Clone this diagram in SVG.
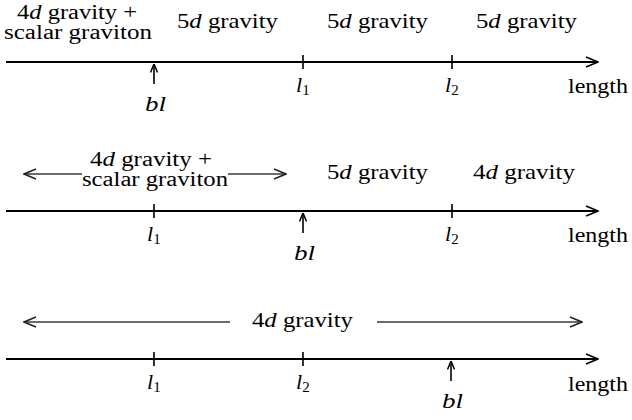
<svg xmlns="http://www.w3.org/2000/svg" width="632" height="420" viewBox="0 0 632 420">
<style>
text{font-family:"Liberation Serif","Times New Roman",Times,serif;font-size:22px;fill:#000}
.i{font-style:italic}
.st{font-size:20px}
.sub{font-size:15px;font-style:normal}
.axis{stroke:#000;stroke-width:2;fill:none}
.tick{stroke:#000;stroke-width:1.6}
.bl{stroke:#000;stroke-width:1.6;fill:none}
.rng{stroke:#3a3a3a;stroke-width:1.5;fill:none}
</style>
<defs>
<marker id="ah" viewBox="0 0 14 12" refX="13" refY="6" markerWidth="14" markerHeight="12" orient="auto" markerUnits="userSpaceOnUse">
<path d="M1,1 L13,6 L1,11" fill="none" stroke="#000" stroke-width="1.5"/>
</marker>
<marker id="ahs" viewBox="0 0 10 8" refX="9.5" refY="4" markerWidth="10" markerHeight="8" orient="auto" markerUnits="userSpaceOnUse">
<path d="M1,0.5 L9.5,4 L1,7.5" fill="none" stroke="#000" stroke-width="1.5"/>
</marker>
<marker id="ahg" viewBox="0 0 14 12" refX="13" refY="6" markerWidth="14" markerHeight="12" orient="auto" markerUnits="userSpaceOnUse">
<path d="M1,1 L13,6 L1,11" fill="none" stroke="#222" stroke-width="1.5"/>
</marker>
</defs>

<g id="connectors">
<line class="axis" x1="6" y1="62" x2="598" y2="62" marker-end="url(#ah)"/>
<line class="axis" x1="6" y1="211" x2="598" y2="211" marker-end="url(#ah)"/>
<line class="axis" x1="6" y1="359" x2="598" y2="359" marker-end="url(#ah)"/>
<line class="tick" x1="303" y1="55" x2="303" y2="69"/>
<line class="tick" x1="452" y1="55" x2="452" y2="69"/>
<line class="tick" x1="154" y1="204" x2="154" y2="218"/>
<line class="tick" x1="452" y1="204" x2="452" y2="218"/>
<line class="tick" x1="154" y1="352" x2="154" y2="366"/>
<line class="tick" x1="303" y1="352" x2="303" y2="366"/>
<line class="bl" x1="154" y1="84" x2="154" y2="64" marker-end="url(#ahs)"/>
<line class="bl" x1="303" y1="233" x2="303" y2="213" marker-end="url(#ahs)"/>
<line class="bl" x1="451" y1="381" x2="451" y2="361" marker-end="url(#ahs)"/>
<line class="rng" x1="82" y1="174" x2="24" y2="174" marker-end="url(#ahg)"/>
<line class="rng" x1="228" y1="174" x2="286" y2="174" marker-end="url(#ahg)"/>
<line class="rng" x1="230" y1="322" x2="24" y2="322" marker-end="url(#ahg)"/>
<line class="rng" x1="377" y1="322" x2="582" y2="322" marker-end="url(#ahg)"/>
</g>

<g id="row1">
<text class="st" x="17" y="19" textLength="120" lengthAdjust="spacingAndGlyphs">4<tspan class="i">d</tspan> gravity +</text>
<text class="st" x="4" y="39" textLength="148" lengthAdjust="spacingAndGlyphs">scalar graviton</text>
<text x="177" y="28" textLength="101" lengthAdjust="spacingAndGlyphs">5<tspan class="i">d</tspan> gravity</text>
<text x="327" y="28" textLength="101" lengthAdjust="spacingAndGlyphs">5<tspan class="i">d</tspan> gravity</text>
<text x="476" y="28" textLength="101" lengthAdjust="spacingAndGlyphs">5<tspan class="i">d</tspan> gravity</text>
<text x="296" y="92"><tspan class="i">l</tspan><tspan class="sub" dy="3">1</tspan></text>
<text x="445" y="92"><tspan class="i">l</tspan><tspan class="sub" dy="3">2</tspan></text>
<text class="i" x="145" y="111" textLength="21" lengthAdjust="spacingAndGlyphs">bl</text>
<text x="568" y="93" textLength="60" lengthAdjust="spacingAndGlyphs">length</text>
</g>

<g id="row2">
<text class="st" x="90" y="166" textLength="122" lengthAdjust="spacingAndGlyphs">4<tspan class="i">d</tspan> gravity +</text>
<text class="st" x="82" y="186" textLength="146" lengthAdjust="spacingAndGlyphs">scalar graviton</text>
<text x="327" y="179" textLength="101" lengthAdjust="spacingAndGlyphs">5<tspan class="i">d</tspan> gravity</text>
<text x="473" y="179" textLength="102" lengthAdjust="spacingAndGlyphs">4<tspan class="i">d</tspan> gravity</text>
<text x="147" y="241"><tspan class="i">l</tspan><tspan class="sub" dy="3">1</tspan></text>
<text x="445" y="241"><tspan class="i">l</tspan><tspan class="sub" dy="3">2</tspan></text>
<text class="i" x="294" y="260" textLength="21" lengthAdjust="spacingAndGlyphs">bl</text>
<text x="568" y="242" textLength="60" lengthAdjust="spacingAndGlyphs">length</text>
</g>

<g id="row3">
<text x="252" y="327" textLength="101" lengthAdjust="spacingAndGlyphs">4<tspan class="i">d</tspan> gravity</text>
<text x="147" y="389"><tspan class="i">l</tspan><tspan class="sub" dy="3">1</tspan></text>
<text x="296" y="389"><tspan class="i">l</tspan><tspan class="sub" dy="3">2</tspan></text>
<text class="i" x="442" y="408" textLength="21" lengthAdjust="spacingAndGlyphs">bl</text>
<text x="568" y="391" textLength="60" lengthAdjust="spacingAndGlyphs">length</text>
</g>
</svg>
